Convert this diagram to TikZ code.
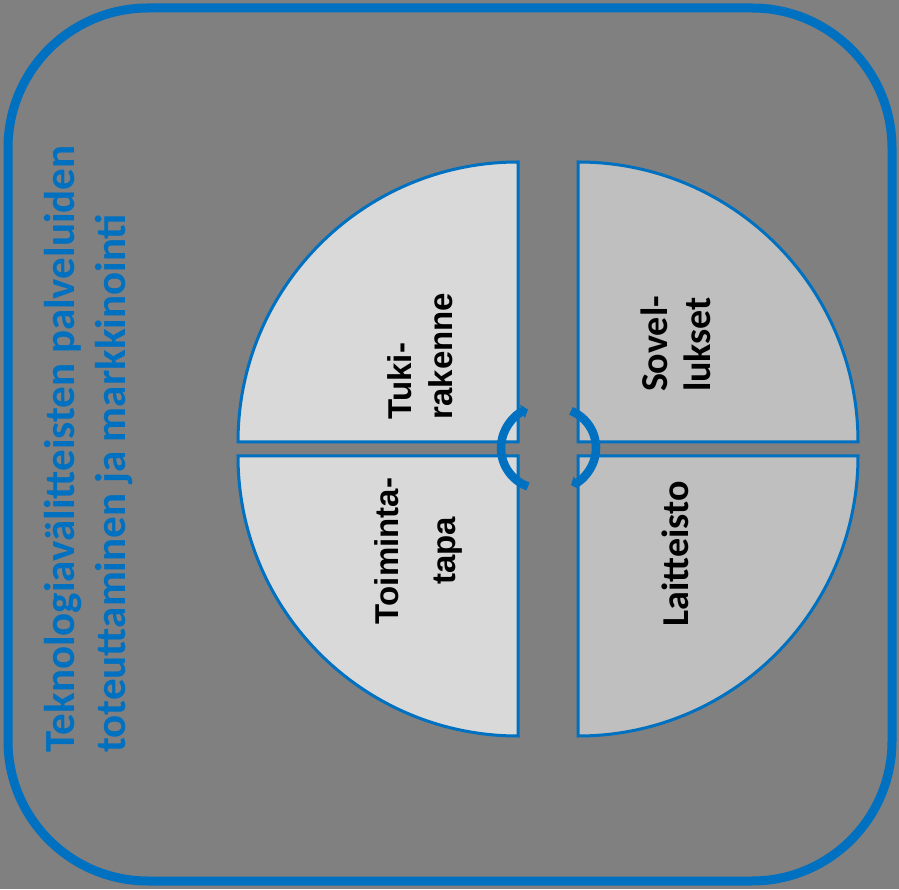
\documentclass[tikz,border=0pt]{standalone}
\usepackage{fontspec}
\setmainfont{Carlito}
\newfontfamily\arialfont{Liberation Sans}
\usetikzlibrary{arrows.meta}

\definecolor{diagblue}{RGB}{0,112,192}
\definecolor{bggray}{RGB}{128,128,128}
\definecolor{leftfill}{RGB}{217,217,217}
\definecolor{rightfill}{RGB}{191,191,191}

\begin{document}
\begin{tikzpicture}[
    x=1pt, y=1pt,
    >={Triangle[length=6pt,width=14pt]},
    quarter/.style={
        draw=diagblue,
        line width=3pt,
        fill=#1
    },
    sidelabel/.style={
        rotate=90,
        inner sep=0pt,
        text=black,
        font={#1}
    },
    turnarrow/.style={
        ->,
        draw=diagblue,
        line width=8.5pt
    }
]

% Background and outer frame
\fill[bggray] (0,0) rectangle (899,889);
\draw[diagblue, line width=9pt, rounded corners=140pt] (8,8) rectangle (892,881);

% Title along the left side
\node[rotate=90, inner sep=0pt, anchor=west, align=left, text=diagblue,
      font=\fontsize{43}{51}\selectfont\bfseries] (title) at (89,136)
  {Teknologiavälitteisten palveluiden\\toteuttaminen ja markkinointi};

% Four quarters
\filldraw[quarter=leftfill]  (518,447) -- (238,447) arc (180:90:280) -- cycle;
\filldraw[quarter=rightfill] (578,447) -- (578,727) arc (90:0:280) -- cycle;
\filldraw[quarter=leftfill]  (518,433) -- (238,433) arc (180:270:280) -- cycle;
\filldraw[quarter=rightfill] (578,433) -- (858,433) arc (0:-90:280) -- cycle;

% Quarter labels
\node[sidelabel=\arialfont\fontsize{33}{41}\selectfont\bfseries, align=left] (tuki) at (420,533) {Tuki-\\rakenne};
\node[sidelabel=\fontsize{38}{43}\selectfont\bfseries, align=left] (sovel) at (676,545) {Sovel-\\lukset};
\node[sidelabel=\arialfont\fontsize{33}{40}\selectfont\bfseries, align=center] (toim) at (418,338) {Toiminta-\\[17pt]tapa};
\node[sidelabel=\fontsize{38}{43}\selectfont\bfseries] (lait) at (675,335) {Laitteisto};

% Turning arrows in the middle
\draw[turnarrow] ([shift={(250:41)}]542,441) arc (250:110:41);
\draw[turnarrow] ([shift={(68:40)}]556,441) arc (68:-68:40);

\end{tikzpicture}
\end{document}
